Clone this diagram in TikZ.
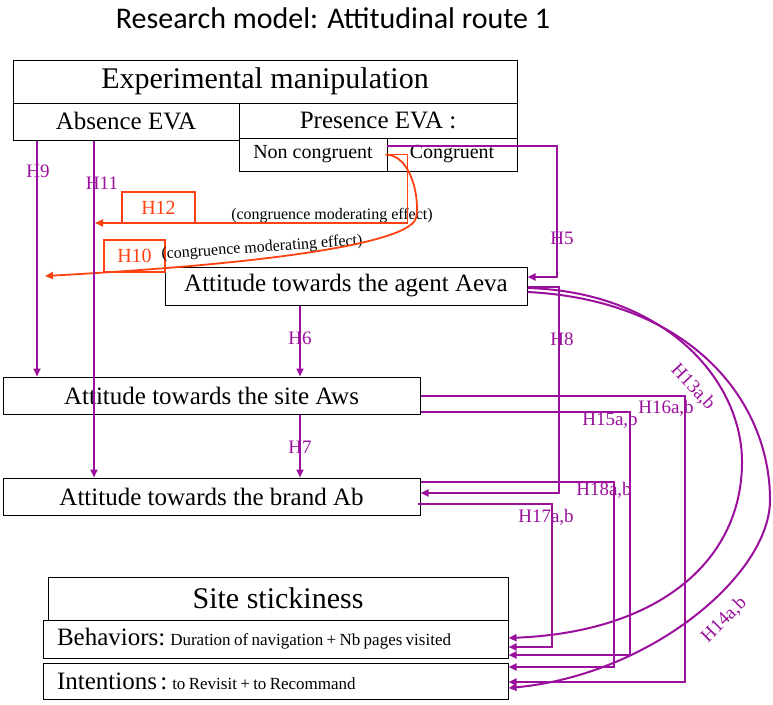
\documentclass[tikz,border=0pt]{standalone}
\usepackage{fontspec}
\setmainfont{Liberation Serif}
\newfontfamily\titlefont{Carlito}
\usetikzlibrary{arrows.meta}
\definecolor{ink}{HTML}{000000}
\definecolor{hyp}{HTML}{9A0F9C}
\definecolor{mod}{HTML}{FF4010}
\tikzset{
  box/.style={draw=ink, line width=1pt, minimum height=37, inner sep=0pt},
  big/.style={font=\fontsize{30}{30}\selectfont},
  mid/.style={font=\fontsize{25}{25}\selectfont},
  sml/.style={font=\fontsize{20}{20}\selectfont},
  hlab/.style={text=hyp, font=\fontsize{19}{19}\selectfont, inner sep=0pt},
  mlab/.style={text=mod, font=\fontsize{20}{20}\selectfont},
  note/.style={text=ink, font=\fontsize{16}{16}\selectfont, inner sep=0pt},
  link/.style={draw=hyp, line width=2pt, -{Triangle[length=8pt,width=7pt]}},
  modlink/.style={draw=mod, line width=1.8pt, -{Triangle[length=8pt,width=7pt]}},
  modbox/.style={draw=mod, line width=1.1pt, inner sep=0pt}
}

\begin{document}
\begin{tikzpicture}[x=1pt,y=-1pt]
  \useasboundingbox (0,0) rectangle (773,704);
  \node[font=\titlefont\fontsize{30}{30}\selectfont] (title) at (333,18) {Research model: Attitudinal route 1};

  \node[box, big, minimum width=504, minimum height=43] (manip) at (265,81.5) {Experimental manipulation};
  \node[box, mid, minimum width=226] (absence) at (126,121.5) {Absence EVA};
  \node[box, mid, minimum width=278, minimum height=35] (presence) at (378,120.5) {Presence EVA :};
  \node[box, sml, minimum width=148, minimum height=33] (noncong) at (313,154.5) {Non congruent};
  \node[box, sml, minimum width=130, minimum height=33] (cong) at (452,154.5) {Congruent};

  \node[box, mid, minimum width=362, minimum height=38] (aeva) at (346,286) {Attitude towards the agent Aeva};
  \node[box, mid, minimum width=417] (aws) at (211.5,395.5) {Attitude towards the site Aws};
  \node[box, mid, minimum width=417] (ab) at (211.5,496.5) {Attitude towards the brand Ab};

  \node[box, big, minimum width=460, minimum height=43] (stick) at (278,598.5) {Site stickiness};
  \node[box, minimum width=465, minimum height=38, text width=437, align=left, inner xsep=14pt] (behav) at (275.5,639)
    {{\fontsize{25}{25}\selectfont Behaviors:} {\fontsize{17}{17}\selectfont Duration of navigation + Nb pages visited}};
  \node[box, minimum width=465, minimum height=36, text width=437, align=left, inner xsep=14pt] (inten) at (275.5,681)
    {{\fontsize{25}{25}\selectfont Intentions :} {\fontsize{17}{17}\selectfont to Revisit + to Recommand}};

  \coordinate (x9) at (37,0);
  \coordinate (x11) at (94,0);
  \coordinate (x6) at (300,0);
  \coordinate (m12) at (95,223);
  \coordinate (m10) at (45,276);

  \node[modbox, mlab, minimum width=73, minimum height=31] (h12) at (158.5,207.5) {H12};
  \node[modbox, mlab, minimum width=61, minimum height=32] (h10) at (134.5,256) {H10};
  \node[note] (n12) at (332,216) {(congruence moderating effect)};
  \node[note, rotate=4] (n10) at (262,248) {(congruence moderating effect)};
  \draw[modlink] ([xshift=-2pt]noncong.east) -- ++(22,0) |- (m12);
  \draw[modlink] ([xshift=-2pt]noncong.east) .. controls (412,155) and (420,200) .. (416,218)
    .. controls (410,240) and (300,262) .. (m10);

  \draw[link] (absence.south -| x9) -- (aws.north -| x9);
  \draw[link] (absence.south -| x11) -- (ab.north -| x11);
  \draw[link] (aeva.south -| x6) -- (aws.north -| x6);
  \draw[link] (aws.south -| x6) -- (ab.north -| x6);
  \draw[link] ([yshift=-8pt]cong.north west) -- ++(170,0) |- ([yshift=9pt]aeva.east);
  \draw[link] ([yshift=-1pt]aeva.east) -- ++(31,0) |- ([yshift=3.5pt]ab.east);
  \draw[link] (aws.east) -- ++(264,0) |- ([yshift=-1pt]inten.east);
  \draw[link] ([yshift=-16.5pt]aws.east) -- ++(209,0) |- ([yshift=-16pt]behav.east);
  \draw[link] ([yshift=14.5pt]ab.east) -- ++(193,0) |- ([yshift=14pt]inten.east);
  \draw[link] ([xshift=-3pt,yshift=-7.5pt]ab.east) -- ++(134,0) |- ([yshift=-8pt]behav.east);
  \draw[link] ([yshift=-2pt]aeva.east) .. controls (665,292) and (742,380) .. (742,462)
    .. controls (742,560) and (660,632) .. ([yshift=1pt]behav.east);
  \draw[link] ([yshift=-6pt]aeva.east) .. controls (690,300) and (770,400) .. (770,500)
    .. controls (770,575) and (650,675) .. ([yshift=-7pt]inten.east);

  \node[hlab] (l9) at (38,171) {H9};
  \node[hlab] (l11) at (102,183) {H11};
  \node[hlab] (l5) at (562,238) {H5};
  \node[hlab] (l8) at (562,339) {H8};
  \node[hlab] (l6) at (300,338) {H6};
  \node[hlab] (l7) at (300,447) {H7};
  \node[hlab] (l16) at (666,408) {H16a,b};
  \node[hlab] (l15) at (610,420) {H15a,b};
  \node[hlab] (l18) at (604,490) {H18a,b};
  \node[hlab] (l17) at (546,517) {H17a,b};
  \node[hlab, rotate=-47] (l13) at (693,387) {H13a,b};
  \node[hlab, rotate=45] (l14) at (724,620) {H14a,b};
\end{tikzpicture}
\end{document}
